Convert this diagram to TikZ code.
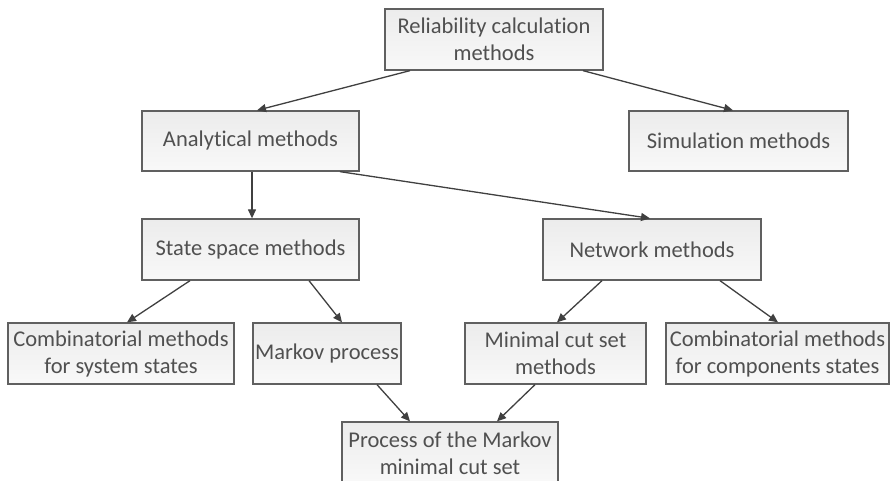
\documentclass[tikz,border=0pt]{standalone}
\usepackage{fontspec}
\setmainfont[Ligatures=NoCommon]{Carlito}
\usetikzlibrary{arrows.meta}

\definecolor{boxline}{HTML}{606060}
\definecolor{boxtext}{HTML}{505050}
\definecolor{linkline}{HTML}{404040}

\begin{document}
\begin{tikzpicture}[x=1pt,y=-1pt,
    box/.style={draw=boxline, line width=1.3pt, top color=gray!15, bottom color=gray!5,
        text=boxtext, align=center, inner sep=0pt, minimum height=61pt,
        font=\fontsize{22.5}{27}\selectfont},
    link/.style={draw=linkline, line width=1.3pt, -{Triangle[length=9pt,width=8pt]}}]

% Page frame
\useasboundingbox (0,0) rectangle (891,481);
\clip (0,0) rectangle (891,481);

% Boxes of the tree
\node[box, minimum width=218pt, minimum height=61pt] (root) at (494,39.5) {Reliability calculation\\methods};
\node[box, minimum width=217pt, minimum height=60pt] (ana) at (250.5,141) {Analytical methods};
\node[box, minimum width=219pt, minimum height=60pt] (sim) at (738.5,141) {Simulation methods};
\node[box, minimum width=217pt] (state) at (250.5,249.5) {State space methods};
\node[box, minimum width=218pt] (net) at (652,249.5) {Network methods};
\node[box, minimum width=226pt] (combsys) at (121,353.5) {Combinatorial methods\\for system states};
\node[box, minimum width=148pt] (markov) at (327,353.5) {Markov process};
\node[box, minimum width=181pt] (mincut) at (555.5,353.5) {Minimal cut set\\methods};
\node[box, minimum width=223pt] (combcomp) at (777.5,353.5) {Combinatorial methods\\for components states};
\node[box, minimum width=216pt, minimum height=62pt] (proc) at (450,453) {Process of the Markov\\minimal cut set};

%%%%%%%%%% Links %%%%%%%%%%
\draw[link] ([xshift=-84pt]root.south) -- ([xshift=6.5pt]ana.north);
\draw[link] ([xshift=89pt]root.south) -- ([xshift=-5.5pt]sim.north);
\draw[link] ([xshift=1.5pt]ana.south) -- ([xshift=1.5pt]state.north);
\draw[link] ([xshift=89.5pt]ana.south) -- ([xshift=-2pt]net.north);
\draw[link] ([xshift=-60.5pt]state.south) -- ([xshift=6pt]combsys.north);
\draw[link] ([xshift=58.5pt]state.south) -- ([xshift=15pt]markov.north);
\draw[link] ([xshift=-50pt]net.south) -- ([xshift=1.5pt]mincut.north);
\draw[link] ([xshift=68pt]net.south) -- ([xshift=0.5pt]combcomp.north);
\draw[link] ([xshift=50pt]markov.south) -- ([xshift=-40pt]proc.north);
\draw[link] ([xshift=-20.5pt]mincut.south) -- ([xshift=47pt]proc.north);

\end{tikzpicture}
\end{document}
